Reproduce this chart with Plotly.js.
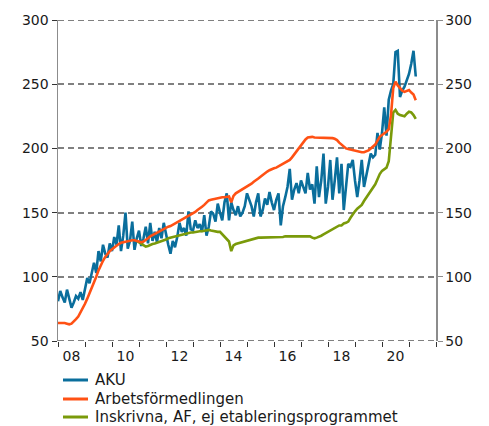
<!DOCTYPE html>
<html>
<head>
<meta charset="utf-8">
<script src="https://cdn.plot.ly/plotly-3.0.1.min.js"></script>
<style>html,body{margin:0;padding:0;background:#fff;}#chart{width:489px;height:426px;}</style>
</head>
<body>
<div id="chart"></div>
<script>
// Monthly series, January 2008 – April 2021
const startYear = 2008;
const seriesNames = ["AKU", "Arbetsförmedlingen", "Inskrivna, AF, ej etableringsprogrammet"];

const aku = [
  81, 89, 84, 80, 90, 83, 76, 80, 85, 83, 88, 82,
  92, 99, 95, 104, 111, 103, 120, 112, 125, 118, 115, 126,
  120, 131, 125, 140, 120, 132, 150, 122, 128, 143, 121, 130,
  136, 124, 130, 139, 126, 142, 128, 135, 127, 138, 130, 142,
  132, 125, 118, 128, 123, 131, 142, 135, 138, 132, 151, 137,
  136, 144, 138, 141, 135, 148, 132, 139, 151, 149, 143, 157,
  150, 144, 158, 165, 144, 158, 152, 148, 155, 147, 150, 155,
  165, 160, 155, 147, 158, 165, 147, 152, 161, 156, 166, 158,
  152, 160, 165, 140, 155, 162, 170, 184, 160, 168, 173, 165,
  175, 170, 165, 181, 168, 172, 157, 186, 162, 175, 196, 157,
  170, 191, 160, 175, 193, 165, 188, 152, 170, 188, 186, 191,
  175, 162, 175, 191, 170, 178, 186, 196, 193, 195, 212, 199,
  212, 232, 210, 238, 245, 250, 275, 276, 240, 245, 248, 253,
  258, 266, 276, 256
];

const af = [
  64, 64, 64.5, 64, 63.5, 63, 63.5, 65, 67, 69, 72, 75,
  79, 83, 87, 91, 96, 100, 105, 109, 112.5, 115.5, 118, 120,
  121.5, 123, 124.5, 125.5, 126.5, 127, 127.5, 128, 128.5, 128.5, 128.5, 128,
  127.5, 127, 127.5, 128.5, 130, 131.5, 132.5, 133.5, 134.5, 135.5, 136.5, 137.5,
  138, 139, 139.5, 140.5, 141.5, 142.5, 143, 144, 145, 146.5, 147.5, 148.5,
  149.5, 150.5, 152, 153, 154.5, 156, 157.5, 159.5, 160, 160.5, 161, 161.5,
  162, 162, 162, 162, 162.5, 158, 163, 165, 166, 167, 168, 169,
  170, 171, 172.5, 174, 175, 176.5, 178, 179.5, 181, 182, 183, 184,
  184.5, 185, 186, 187, 188, 188.5, 189.5, 191, 193, 195.5, 198, 200,
  202, 204.5, 207, 208.5, 209, 209, 208.5, 208.5, 208, 208, 208.5, 208,
  208, 208, 208, 207.5, 206.5, 204.5, 203, 201.5, 200, 199.5, 199, 198.5,
  198, 197.5, 197.5, 197, 197, 197.5, 198.5, 200, 201.5, 203, 206, 209,
  210.5, 211.5, 213, 215, 226, 247, 252, 249, 246.5, 245, 244, 245,
  245.5, 243.5, 242, 237.5
];

// Starts December 2010 (nulls before)
const inskrivna = [
  null, null, null, null, null, null, null, null, null, null, null, null,
  null, null, null, null, null, null, null, null, null, null, null, null,
  null, null, null, null, null, null, null, null, null, null, null, 128,
  127, 126, 124.5, 123.5, 124, 125, 125.5, 126, 126.5, 127, 127.5, 128,
  129, 130, 130.5, 131, 131.5, 132, 132.5, 133, 133.5, 134, 134, 134.5,
  134.5, 135, 135, 135.5, 135.5, 136, 136.5, 136.5, 136, 135.5, 135.5, 135,
  135, 133, 131, 129.5, 127.5, 120, 124.5, 125.5, 126, 126.5, 127, 127.5,
  128, 128.5, 129.5, 130, 130, 130.5, 130.5, 130.5, 130.5, 130.5, 130.5, 130.5,
  130.5, 130.5, 130.8, 131, 131, 131.5, 131.5, 132, 132, 132, 132, 131.5,
  132, 132, 132, 131.5, 131.5, 130.5, 130, 130.5, 131, 132, 133, 134,
  135, 136, 137, 138.5, 139, 140, 140, 141.5, 142, 143, 146, 149,
  151, 153, 154.5, 156, 159, 161.5, 164, 166.5, 169, 172, 176, 180,
  182.5, 184, 185, 190, 210, 228, 230, 227, 226, 225.5, 225, 227,
  228.5, 228, 226, 223
];

const tickYears = [2008, 2009, 2010, 2011, 2012, 2013, 2014, 2015, 2016, 2017, 2018, 2019, 2020, 2021, 2022];
const labelYears = [2008, 2010, 2012, 2014, 2016, 2018, 2020];
const labelText = ["08", "10", "12", "14", "16", "18", "20"];
const yTicks = [50, 100, 150, 200, 250, 300];

const x = aku.map((_, i) => startYear + i / 12);
const colors = ["#0a6e9c", "#ff5114", "#7a9a0a"];
const font = "DejaVu Sans, Verdana, sans-serif";
const gridColor = "#808080";

const series = [aku, af, inskrivna];
const mk = (k) => ({
  type: "scatter", mode: "lines", x: x, y: series[k], name: seriesNames[k],
  showlegend: false,
  line: {color: colors[k], width: 2.6}, connectgaps: false
});
// drawing order: AKU, Inskrivna, Arbetsförmedlingen (orange on top)
const traces = [mk(0), mk(2), mk(1),
  {type: "scatter", mode: "lines", x: [], y: [], yaxis: "y2", showlegend: false, hoverinfo: "skip"}];

// Legend drawn as line samples + text below the plot (paper coordinates)
const legendRowsY = [-0.1215, -0.1807, -0.2368];
const shapes = [];
const annotations = [];
seriesNames.forEach((name, k) => {
  shapes.push({type: "line", xref: "paper", yref: "paper", x0: 0.0132, x1: 0.0794,
               y0: legendRowsY[k], y1: legendRowsY[k], line: {color: colors[k], width: 3}});
  annotations.push({xref: "paper", yref: "paper", x: 0.0926, y: legendRowsY[k],
                    xanchor: "left", yanchor: "middle", showarrow: false, text: name,
                    font: {family: font, size: 15, color: "#1a1a1a"}});
});
// dashed grid lines at the two range edges (Plotly omits them at the edges)
[yTicks[0], yTicks[yTicks.length - 1]].forEach(v => {
  shapes.push({type: "line", xref: "paper", yref: "y", x0: 0, x1: 1, y0: v, y1: v, layer: "below",
               line: {color: gridColor, width: 2, dash: "6px,4px"}});
});

const yr = [50, 300];
const layout = {
  width: 489, height: 426,
  margin: {l: 58, r: 53, t: 20, b: 85, autoexpand: false},
  paper_bgcolor: "#fff", plot_bgcolor: "#fff",
  font: {family: font, size: 14, color: "#1a1a1a"},
  showlegend: false,
  shapes: shapes, annotations: annotations,
  xaxis: {
    range: [2008, 2022], showgrid: false, zeroline: false, showline: false,
    tickmode: "array", tickvals: labelYears.map(v => v + 0.5), ticktext: labelText,
    ticks: "", tickfont: {size: 14}, ticklabelstandoff: 5,
    minor: {tickmode: "array", tickvals: tickYears, ticks: "outside", ticklen: 5, tickwidth: 1, tickcolor: "#333", showgrid: false}
  },
  yaxis: {
    range: yr, tickmode: "array", tickvals: yTicks,
    showgrid: true, gridcolor: gridColor, gridwidth: 2, griddash: "6px,4px",
    zeroline: false, showline: true, linecolor: "#8c8c8c", linewidth: 1.5,
    ticks: "outside", ticklen: 5, tickcolor: "#333", tickfont: {size: 14}
  },
  yaxis2: {
    range: yr, tickmode: "array", tickvals: yTicks, overlaying: "y", side: "right",
    showgrid: false, zeroline: false, showline: true, linecolor: "#8c8c8c", linewidth: 1.5,
    ticks: "outside", ticklen: 5, tickcolor: "#8c8c8c", tickfont: {size: 14}
  }
};

Plotly.newPlot("chart", traces, layout, {displayModeBar: false, staticPlot: true});
</script>
</body>
</html>
